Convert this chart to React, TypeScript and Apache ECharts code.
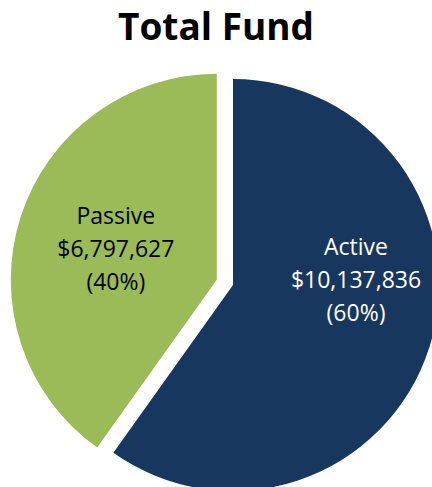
import React, { useEffect, useRef } from "react";
import * as echarts from "echarts";

const categories = ["Active", "Passive"];
const values = [10137836, 6797627];
const percents = ["60%", "40%"];
const colors = ["#17375e", "#9bbb59"];
const labelColors = ["#ffffff", "#000000"];
const labelPos = [
  [356, 279],
  [108, 247],
];
const title = "Total Fund";

const fmt = (v: number) => "$" + v.toLocaleString("en-US");

export default function App() {
  const ref = useRef<HTMLDivElement>(null);
  useEffect(() => {
    document.body.style.margin = "0";
    const chart = echarts.init(ref.current!, null, { renderer: "svg" });
    chart.setOption({
      animation: false,
      title: {
        text: title,
        left: 118,
        top: 7,
        padding: 0,
        textStyle: {
          fontFamily: "Open Sans",
          fontWeight: "bold",
          fontSize: 37,
          color: "#000",
        },
      },
      series: [
        {
          type: "pie",
          center: [233, 285],
          radius: 206,
          startAngle: 90,
          clockwise: true,
          selectedMode: "single",
          selectedOffset: 17,
          silent: true,
          label: {
            show: true,
            position: "inside",
            fontFamily: "Open Sans",
            fontSize: 23,
            lineHeight: 33,
            align: "center",
            formatter: (p: any) =>
              `${p.name}\n${fmt(p.value)}\n(${percents[p.dataIndex]})`,
          },
          labelLayout: (p: any) => ({
            x: labelPos[p.dataIndex][0],
            y: labelPos[p.dataIndex][1],
          }),
          data: categories.map((c, i) => ({
            name: c,
            value: values[i],
            selected: i === 1,
            itemStyle: { color: colors[i] },
            label: { color: labelColors[i] },
          })),
        },
      ],
    });
    return () => chart.dispose();
  }, []);
  return (
    <div
      ref={ref}
      style={{ position: "absolute", left: 0, top: 0, width: 432, height: 487 }}
    />
  );
}
